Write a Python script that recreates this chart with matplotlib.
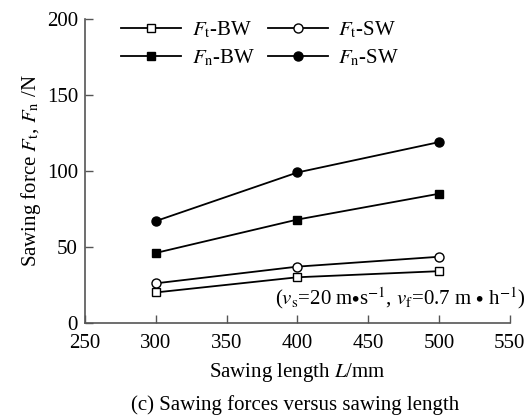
import matplotlib
matplotlib.use("Agg")
import matplotlib.pyplot as plt

plt.rcParams['font.family'] = ['Liberation Serif', 'DejaVu Serif']
plt.rcParams['mathtext.fontset'] = 'stix'

lengths = [300, 400, 500]
ft_bw = [20, 30, 34]
ft_sw = [26, 37, 43.5]
fn_bw = [46, 68, 85]
fn_sw = [67, 99, 119]

fig = plt.figure(figsize=(5.31, 4.16), dpi=100)
ax = fig.add_axes([0.16, 0.224, 0.80, 0.73])

fs = 15
ax.plot(lengths, ft_bw, '-s', color='black', mfc='white', ms=5.5, lw=1.3, label=r'$F_\mathrm{t}$-BW')
ax.plot(lengths, fn_bw, '-s', color='black', mfc='black', ms=5.5, lw=1.3, label=r'$F_\mathrm{n}$-BW')
ax.plot(lengths, ft_sw, '-o', color='black', mfc='white', ms=6.5, lw=1.3, label=r'$F_\mathrm{t}$-SW')
ax.plot(lengths, fn_sw, '-o', color='black', mfc='black', ms=6.5, lw=1.3, label=r'$F_\mathrm{n}$-SW')

ax.set_xlim(250, 550)
ax.set_ylim(0, 200)
ax.set_xticks([250, 300, 350, 400, 450, 500, 550])
ax.set_yticks([0, 50, 100, 150, 200])
for s in ['top', 'right']:
    ax.spines[s].set_visible(False)
for s in ['left', 'bottom']:
    ax.spines[s].set_color('#555555')
    ax.spines[s].set_linewidth(1.2)
ax.tick_params(direction='in', length=6, width=1.0, color='#555555', labelsize=fs, pad=5)
ax.tick_params(axis='x', pad=8)

ax.set_ylabel(r'Sawing force $F_\mathrm{t}$, $F_\mathrm{n}$ /N', fontsize=fs, labelpad=3)
ax.set_xlabel(r'Sawing length $L$/mm', fontsize=fs, labelpad=6)
fig.text(0.555, 0.015, '(c) Sawing forces versus sawing length', ha='center', fontsize=fs)

ax.text(561, 8, r'($v_\mathrm{s}$=20 m$\bullet$s$^{-1}$, $v_\mathrm{f}$=0.7 m $\bullet$ h$^{-1}$)',
        ha='right', va='bottom', fontsize=fs)

ax.legend(loc='upper left', ncol=2, frameon=False, fontsize=fs, handlelength=2.9,
          columnspacing=0.6, handletextpad=0.5, labelspacing=0.35,
          bbox_to_anchor=(0.04, 1.06))

fig.savefig('out.png', dpi=100)
